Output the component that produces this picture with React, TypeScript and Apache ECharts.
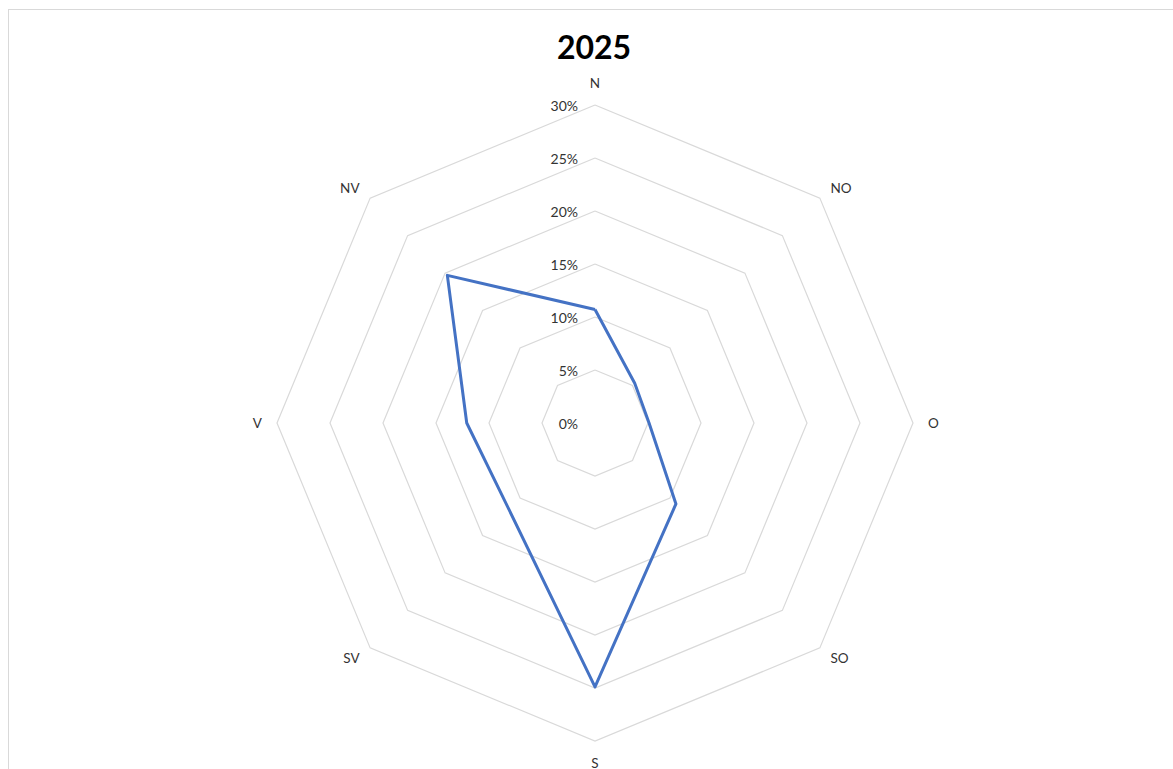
import React, { useEffect, useRef } from 'react';
import * as echarts from 'echarts';

const chartTitle = '2025';
const directions = ['N', 'NO', 'O', 'SO', 'S', 'SV', 'V', 'NV'];
const shares = [10.7, 5.3, 5.1, 10.8, 24.9, 11.5, 12.1, 19.7];
const axisMin = 0;
const axisMax = 30;
const axisSplits = 6;

export default function App() {
  const ref = useRef<HTMLDivElement>(null);
  useEffect(() => {
    const chart = echarts.init(ref.current!, null, { renderer: 'svg' });
    const n = directions.length;
    // ECharts lays radar indicators out counter-clockwise; the reference goes clockwise
    const order = directions.map((_, i) => (n - i) % n);
    const indicator = order.map((idx, k) => ({
      name: directions[idx],
      min: axisMin,
      max: axisMax,
      axisLabel: { show: k === 0 },
    }));
    const values = order.map((idx) => shares[idx]);
    const font = 'Lato, "Open Sans", sans-serif';
    chart.setOption({
      animation: false,
      title: {
        text: chartTitle,
        left: 585,
        top: 20,
        padding: 0,
        textAlign: 'center',
        textStyle: { fontSize: 32, fontWeight: 'bold', fontFamily: font, color: '#000' },
      },
      radar: {
        center: [586, 413],
        radius: 318,
        startAngle: 90,
        shape: 'polygon',
        splitNumber: axisSplits,
        indicator,
        nameGap: 15,
        axisName: { color: '#333333', fontSize: 13.5, fontFamily: font },
        axisLine: { show: false },
        axisTick: { show: false },
        splitArea: { show: false },
        splitLine: { lineStyle: { color: '#d9d9d9', width: 1.2 } },
        axisLabel: {
          show: false,
          formatter: '{value}%',
          color: '#333333',
          fontSize: 14,
          fontFamily: font,
          margin: 17,
        },
      },
      series: [
        {
          type: 'radar',
          symbol: 'none',
          lineStyle: { color: '#4472C4', width: 3 },
          data: [{ value: values, name: chartTitle }],
        },
      ],
    });
    return () => chart.dispose();
  }, []);
  return (
    <div style={{ position: 'fixed', left: 0, top: 0, right: 0, bottom: 0, overflow: 'hidden', background: '#fff' }}>
      <div
        ref={ref}
        style={{
          position: 'absolute',
          left: 8,
          top: 9,
          width: 1200,
          height: 800,
          border: '1px solid #d9d9d9',
        }}
      />
    </div>
  );
}
